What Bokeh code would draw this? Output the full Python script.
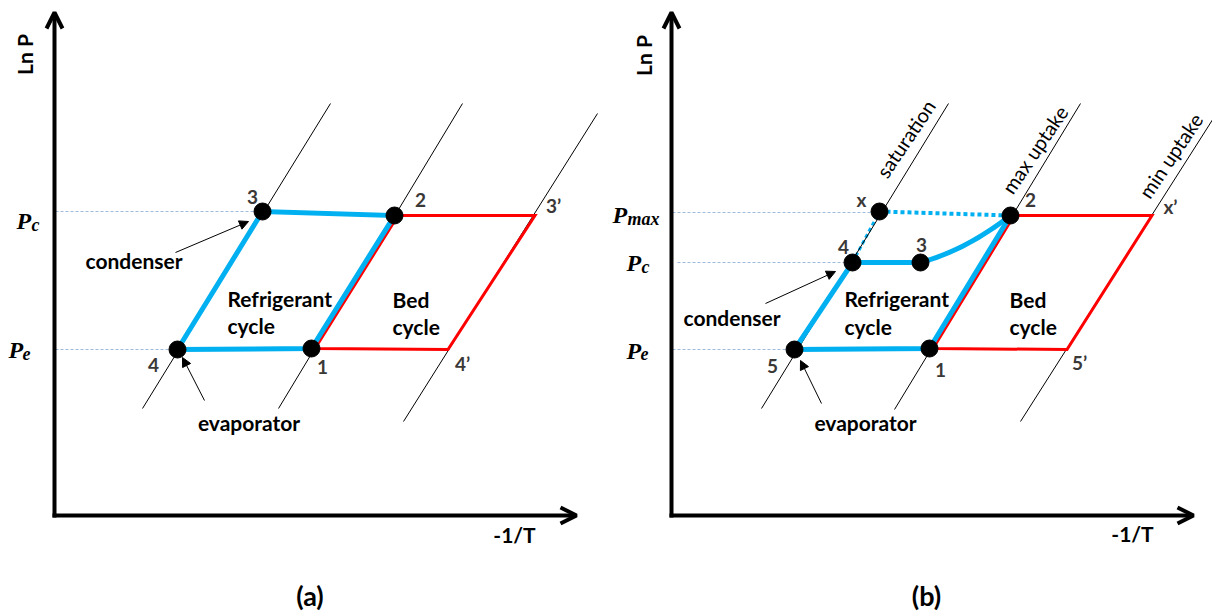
import math
from bokeh.plotting import figure
from bokeh.layouts import row
from bokeh.models import Range1d, Arrow, OpenHead, NormalHead, ColumnDataSource
from bokeh.core.properties import value
from bokeh.transform import dodge
from bokeh.embed import file_html
from bokeh.resources import INLINE

FONT = "Lato"
SERIF = "Liberation Serif"
BLUE = "#00B0F0"
RED = "#FF0000"
NUM = "#3B3838"
GUIDE = "#9DB9DD"

# ---------------- shared frame (-1/T horizontal, ln P vertical, schematic units)
axis_x_end = 522
axis_y_end = 503

# ---------------- panel (a)
a_iso_x0 = [88, 224, 349]
a_iso_y0 = [107, 107, 94]
a_iso_x1 = [276, 408, 543]
a_iso_y1 = [412, 412, 402]

a_pc = 304
a_pe = 166
# refrigerant cycle 4 -> 3 -> 2 -> 1 -> 4
a_ref_x = [123, 208, 340, 257, 123]
a_ref_y = [166, 304, 300, 167, 166]
# bed cycle 1 -> 2 -> 3' -> 4' -> 1
a_bed_x = [257, 340, 477, 390, 257]
a_bed_y = [167, 300, 300, 166, 167]
# state points 3, 2, 4, 1
a_pts_x = [208, 340, 123, 257]
a_pts_y = [304, 300, 166, 167]
a_lab = ["3", "2", "3\u2019", "4", "1", "4\u2019"]
a_lab_x = [198, 366, 499, 99, 268, 408]
a_lab_y = [319, 316, 310, 151, 149, 152]

# ---------------- panel (b)
b_iso_x0 = [90, 223, 349]
b_iso_y0 = [107, 106, 94]
b_iso_x1 = [277, 409, 545]
b_iso_y1 = [412, 412, 402]
b_iso_names = ["saturation", "max uptake", "min uptake"]
b_iso_lab_x = [234, 363, 499]
b_iso_lab_y = [377, 366, 360]

b_pmax = 303
b_pc = 253
b_pe = 166
# refrigerant cycle pieces: 5 -> 4 -> 3, 2 -> 1 -> 5
b_ref1_x = [123, 181, 249]
b_ref1_y = [166, 253, 253]
b_ref2_x = [339, 258, 123]
b_ref2_y = [300, 167, 166]
# curve 3 -> 2 (start, control, end)
b_curve_x = [249, 294, 339]
b_curve_y = [253, 265, 300]
# dotted path 4 -> x -> 2
b_dot_x = [181, 208, 339]
b_dot_y = [253, 304, 300]
# bed cycle 1 -> 2 -> x' -> 5' -> 1
b_bed_x = [258, 339, 477, 392, 258]
b_bed_y = [167, 300, 300, 166, 167]
# state points x, 4, 3, 2, 5, 1
b_pts_x = [208, 181, 249, 339, 123, 258]
b_pts_y = [304, 253, 253, 300, 166, 167]
b_lab = ["x", "4", "3", "2", "x\u2019", "5", "1", "5\u2019"]
b_lab_x = [190, 172, 250, 359, 499, 101, 269, 408]
b_lab_y = [316, 269, 271, 316, 309, 150, 146, 153]


def base(width, left):
    p = figure(width=width, height=612, x_range=Range1d(-left, width - left),
               y_range=Range1d(-97, 515), output_backend="svg",
               toolbar_location=None, min_border=0,
               x_axis_type=None, y_axis_type=None)
    p.grid.visible = False
    p.outline_line_color = None
    p.background_fill_color = "white"
    p.border_fill_color = "white"
    # axes arrows
    p.add_layout(Arrow(x_start=0, y_start=-2, x_end=0, y_end=axis_y_end,
                       line_width=4, line_color="black",
                       end=OpenHead(size=16, line_width=4, line_color="black")))
    p.add_layout(Arrow(x_start=-2, y_start=0, x_end=axis_x_end, y_end=0,
                       line_width=4, line_color="black",
                       end=OpenHead(size=16, line_width=4, line_color="black")))
    return p


def txt(p, x, y, t, size, bold=True, color="black", align="center",
        baseline="middle", angle=0.0, font=FONT, style=None):
    p.text(x=x, y=y, text=t, text_font=value(font),
           text_font_style=style or ("bold" if bold else "normal"),
           text_font_size=size, text_color=color, text_align=align,
           text_baseline=baseline, angle=angle)


def pointer(p, x0, y0, x1, y1):
    p.add_layout(Arrow(x_start=x0, y_start=y0, x_end=x1, y_end=y1,
                       line_width=1, line_color="black",
                       end=NormalHead(size=9, line_color="black",
                                      fill_color="black", line_width=1)))


# ================= panel (a)
pa = base(605, 54)
pa.segment(x0=[1, 1], y0=[a_pc, a_pe], x1=[a_pts_x[0], a_pts_x[2]],
           y1=[a_pc, a_pe], line_color=GUIDE, line_width=1, line_dash="3 2")
pa.segment(x0=a_iso_x0, y0=a_iso_y0, x1=a_iso_x1, y1=a_iso_y1,
           line_color="black", line_width=1)
src_a_bed = ColumnDataSource(dict(x=a_bed_x, y=a_bed_y))
pa.line(x=dodge("x", 3.5), y="y", source=src_a_bed, line_color=RED,
        line_width=3, line_join="miter")
pa.line(x=a_ref_x, y=a_ref_y, line_color=BLUE, line_width=5, line_join="miter")
pa.scatter(x=a_pts_x, y=a_pts_y, size=17, color="black")
txt(pa, a_lab_x, a_lab_y, a_lab, "19px", color=NUM)
txt(pa, [173, 173], [217, 190], ["Refrigerant", "cycle"], "21px", align="left")
txt(pa, [338, 338], [216, 189], ["Bed", "cycle"], "21px", align="left")
txt(pa, [31], [255], ["condenser"], "21px", align="left")
txt(pa, [194.5], [93], ["evaporator"], "21px")
pointer(pa, 121, 263, 194, 294)
pointer(pa, 150, 115, 128, 158)
txt(pa, [-30], [461], ["Ln P"], "21px", angle=math.pi / 2)
txt(pa, [460], [-19], ["-1/T"], "21px")
txt(pa, [255.5], [-80], ["(a)"], "27px")
txt(pa, [-38, -46], [295, 166], ["P", "P"], "24px", font=SERIF,
    style="bold italic", align="left", baseline="alphabetic")
txt(pa, [-23, -32], [291, 162], ["c", "e"], "18px", font=SERIF,
    style="bold italic", align="left", baseline="alphabetic")

# ================= panel (b)
pb = base(607, 66)
pb.segment(x0=[1, 6, 1], y0=[b_pmax, b_pc, b_pe],
           x1=[b_pts_x[0], b_pts_x[1], b_pts_x[4]],
           y1=[b_pmax, b_pc, b_pe], line_color=GUIDE, line_width=1,
           line_dash="3 2")
pb.line(x=b_dot_x[:2], y=b_dot_y[:2], line_color=BLUE, line_width=3,
        line_dash="4 3")
pb.line(x=b_dot_x[1:], y=b_dot_y[1:], line_color=BLUE, line_width=4,
        line_dash="4 3")
pb.segment(x0=b_iso_x0, y0=b_iso_y0, x1=b_iso_x1, y1=b_iso_y1,
           line_color="black", line_width=1)
src_b_bed = ColumnDataSource(dict(x=b_bed_x, y=b_bed_y))
pb.line(x=dodge("x", 3.5), y="y", source=src_b_bed, line_color=RED,
        line_width=3, line_join="miter")
pb.line(x=b_ref1_x, y=b_ref1_y, line_color=BLUE, line_width=5, line_join="miter")
pb.line(x=b_ref2_x, y=b_ref2_y, line_color=BLUE, line_width=5, line_join="miter")
pb.quadratic(x0=[b_curve_x[0]], y0=[b_curve_y[0]], cx=[b_curve_x[1]],
             cy=[b_curve_y[1]], x1=[b_curve_x[2]], y1=[b_curve_y[2]],
             line_color=BLUE, line_width=5)
pb.scatter(x=b_pts_x, y=b_pts_y, size=17, color="black")
txt(pb, b_lab_x, b_lab_y, b_lab, "19px", color=NUM)
txt(pb, b_iso_lab_x, b_iso_lab_y, b_iso_names, "20px", bold=False,
    angle=math.radians(56))
txt(pb, [173, 173], [217, 189], ["Refrigerant", "cycle"], "21px", align="left")
txt(pb, [338, 338], [216, 189], ["Bed", "cycle"], "21px", align="left")
txt(pb, [12], [198], ["condenser"], "21px", align="left")
txt(pb, [194], [93], ["evaporator"], "21px")
pointer(pb, 94, 212, 164, 244)
pointer(pb, 150, 112, 129, 155)
txt(pb, [-28], [460], ["Ln P"], "21px", angle=math.pi / 2)
txt(pb, [461], [-18], ["-1/T"], "21px")
txt(pb, [255], [-80], ["(b)"], "27px")
txt(pb, [-59, -45, -45], [301, 253, 165], ["P", "P", "P"], "24px", font=SERIF,
    style="bold italic", align="left", baseline="alphabetic")
txt(pb, [-44, -30, -31], [297, 249, 162], ["max", "c", "e"], "18px", font=SERIF,
    style="bold italic", align="left", baseline="alphabetic")

layout = row(pa, pb)
open("out.html", "w").write(file_html(layout, INLINE))
